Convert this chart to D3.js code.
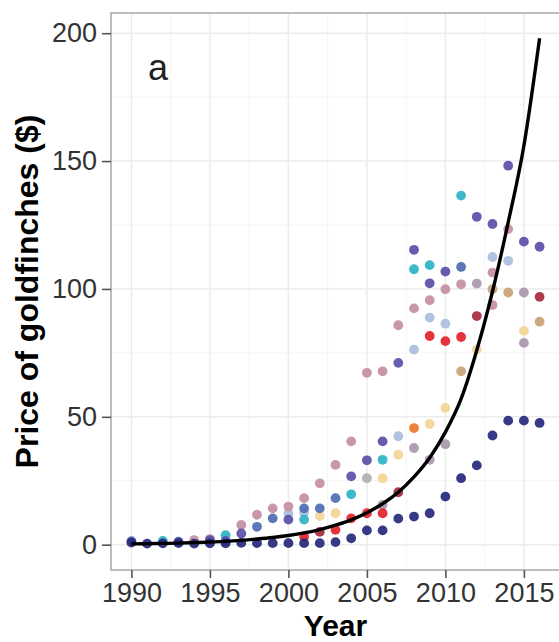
<!DOCTYPE html>
<html>
<head>
<meta charset="utf-8">
<script src="https://cdn.jsdelivr.net/npm/d3@7"></script>
<style>
  body { margin: 0; background: #fff; }
  svg { font-family: "Liberation Sans", Arial, sans-serif; }
</style>
</head>
<body>
<div id="chart"></div>
<script>
// fitted curve
const curveYears = [1990, 1991, 1992, 1993, 1994, 1995, 1996, 1997, 1998, 1999, 2000, 2001, 2002,
  2003, 2004, 2005, 2006, 2007, 2008, 2009, 2010, 2011, 2012, 2013, 2014, 2015, 2016];
const curveValues = [0.3, 0.4, 0.5, 0.6, 0.8, 1.0, 1.3, 1.7, 2.2, 2.8, 3.6, 4.6, 5.9,
  7.6, 9.7, 12.5, 16, 20.5, 26.5, 34, 44, 57, 76, 99, 126, 156, 198];

// observed prices, [year, price]
const navy = [[1990, 0.8], [1991, 0.4], [1992, 0.5], [1993, 0.6], [1994, 0.4], [1995, 0.5], [1996, 0.5],
  [1997, 0.7], [1998, 0.6], [1999, 0.6], [2000, 0.6], [2001, 0.6], [2002, 0.6], [2003, 1.0], [2004, 2.5],
  [2005, 5.6], [2006, 5.6], [2007, 10.2], [2008, 11], [2009, 12.3], [2010, 18.8], [2011, 26], [2012, 31],
  [2013, 42.7], [2014, 48.5], [2015, 48.5], [2016, 47.6]];
const purple = [[1993, 1.2], [1995, 1.8], [1996, 1.5], [1997, 4.4], [2000, 9.8], [2004, 26.7], [2005, 33],
  [2006, 40.4], [2007, 71.1], [2008, 115.3], [2009, 102.2], [2010, 106.8], [2012, 128.2], [2013, 125.4],
  [2014, 148.2], [2015, 118.5], [2016, 116.5]];
const steel = [[1990, 1.4], [1998, 7], [1999, 10.3], [2001, 14.2], [2002, 14.2], [2003, 18.2], [2011, 108.6]];
const mauve = [[1994, 1.8], [1995, 2.2], [1997, 7.7], [1998, 11.7], [1999, 14.2], [2000, 14.9], [2001, 18.2],
  [2002, 24], [2003, 31.2], [2004, 40.4], [2005, 67.2], [2006, 67.8], [2007, 85.8], [2008, 92.4],
  [2009, 95.6], [2010, 99.9], [2011, 101.8], [2013, 106.4], [2013, 93.7], [2014, 123.4]];
const lightblue = [[2000, 12.3], [2001, 12.5], [2007, 42.4], [2008, 76.3], [2009, 88.8], [2010, 86.4],
  [2013, 112.5], [2014, 111]];
const teal = [[1992, 1.5], [1996, 3.7], [2001, 9.8], [2004, 19.7], [2006, 33.2], [2008, 107.7],
  [2009, 109.3], [2011, 136.5]];
const red = [[2001, 3.1], [2003, 5.8], [2004, 10.3], [2005, 12.3], [2006, 12.3], [2009, 81.6],
  [2010, 79.6], [2011, 81.2]];
const darkred = [[2002, 5], [2007, 20.5], [2012, 89.4], [2016, 96.9]];
const orange = [[2008, 45.6]];
const paleyellow = [[2002, 11.2], [2003, 12.3], [2006, 26], [2007, 35.2], [2009, 47.2], [2010, 53.5],
  [2012, 76.3], [2015, 83.6]];
const tan = [[2011, 67.8], [2013, 99.9], [2014, 98.6], [2016, 87.2]];
const grey = [[2005, 26]];
const greymauve = [[2006, 15.6], [2008, 37.8], [2009, 33.2], [2010, 39.3], [2012, 102.1], [2015, 98.6], [2015, 78.9]];

const xTicks = [1990, 1995, 2000, 2005, 2010, 2015];
const yTicks = [0, 50, 100, 150, 200];

const series = [
  { pts: paleyellow, color: "#f4d595" },
  { pts: lightblue, color: "#aabedc" },
  { pts: grey, color: "#b0b0b0" },
  { pts: greymauve, color: "#a996ad" },
  { pts: tan, color: "#c9a176" },
  { pts: mauve, color: "#c58ea3" },
  { pts: orange, color: "#e8782b" },
  { pts: teal, color: "#2db4c4" },
  { pts: steel, color: "#4e6cb2" },
  { pts: purple, color: "#5a4fa8" },
  { pts: red, color: "#e3222e" },
  { pts: darkred, color: "#a52a3e" },
  { pts: navy, color: "#26287c" }
];

const W = 559, H = 642;
const margin = { top: 13, right: -1, bottom: 72, left: 111 };
const width = W - margin.left - margin.right;
const height = H - margin.top - margin.bottom;

const svg = d3.select("#chart")
  .append("svg")
  .attr("width", W)
  .attr("height", H);

const g = svg.append("g")
  .attr("transform", `translate(${margin.left},${margin.top})`);

const x = d3.scaleLinear().domain([1988.7, 2017.3]).range([0, width]);
const y = d3.scaleLinear().domain([-9.9, 207.9]).range([height, 0]);

// grid
const minorX = [1992.5, 1997.5, 2002.5, 2007.5, 2012.5];
const minorY = [25, 75, 125, 175];
g.selectAll(".gx-minor").data(minorX).enter().append("line")
  .attr("x1", d => x(d)).attr("x2", d => x(d)).attr("y1", 0).attr("y2", height)
  .attr("stroke", "#f4f4f4").attr("stroke-width", 1);
g.selectAll(".gy-minor").data(minorY).enter().append("line")
  .attr("y1", d => y(d)).attr("y2", d => y(d)).attr("x1", 0).attr("x2", width)
  .attr("stroke", "#f4f4f4").attr("stroke-width", 1);
g.selectAll(".gx").data(xTicks).enter().append("line")
  .attr("x1", d => x(d)).attr("x2", d => x(d)).attr("y1", 0).attr("y2", height)
  .attr("stroke", "#ececec").attr("stroke-width", 1.5);
g.selectAll(".gy").data(yTicks).enter().append("line")
  .attr("y1", d => y(d)).attr("y2", d => y(d)).attr("x1", 0).attr("x2", width)
  .attr("stroke", "#ececec").attr("stroke-width", 1.5);

// points
series.forEach(s => {
  g.append("g").selectAll("circle")
    .data(s.pts)
    .enter()
    .append("circle")
    .attr("cx", d => x(d[0]))
    .attr("cy", d => y(d[1]))
    .attr("r", 4.9)
    .attr("fill", s.color)
    .attr("opacity", 0.92);
});

// fitted curve
const line = d3.line()
  .x((d, i) => x(curveYears[i]))
  .y(d => y(d))
  .curve(d3.curveMonotoneX);
g.append("path")
  .datum(curveValues)
  .attr("d", line)
  .attr("fill", "none")
  .attr("stroke", "#000")
  .attr("stroke-width", 3.4);

// border
g.append("rect")
  .attr("width", width).attr("height", height)
  .attr("fill", "none").attr("stroke", "#a8a8a8").attr("stroke-width", 1.5);

// axes
const xAxis = g.append("g")
  .attr("transform", `translate(0,${height})`)
  .call(d3.axisBottom(x).tickValues(xTicks).tickFormat(d3.format("d")).tickSize(8).tickPadding(5));
const yAxis = g.append("g")
  .call(d3.axisLeft(y).tickValues(yTicks).tickSize(9).tickPadding(5));
[xAxis, yAxis].forEach(a => {
  a.select(".domain").remove();
  a.selectAll(".tick line").attr("stroke", "#555").attr("stroke-width", 1.6);
  a.selectAll(".tick text")
    .attr("fill", "#333")
    .style("font-size", "27px")
    .style("font-family", "'Liberation Sans', Arial, sans-serif");
});

// titles
svg.append("text")
  .attr("x", margin.left + width / 2)
  .attr("y", 636)
  .attr("text-anchor", "middle")
  .style("font-size", "30px")
  .style("font-weight", "bold")
  .text("Year");

svg.append("text")
  .attr("transform", `translate(38,${margin.top + height / 2}) rotate(-90)`)
  .attr("text-anchor", "middle")
  .style("font-size", "32px")
  .style("font-weight", "bold")
  .text("Price of goldfinches ($)");

g.append("text")
  .attr("x", 47)
  .attr("y", 67)
  .attr("text-anchor", "middle")
  .attr("fill", "#222")
  .style("font-size", "36px")
  .text("a");
</script>
</body>
</html>
